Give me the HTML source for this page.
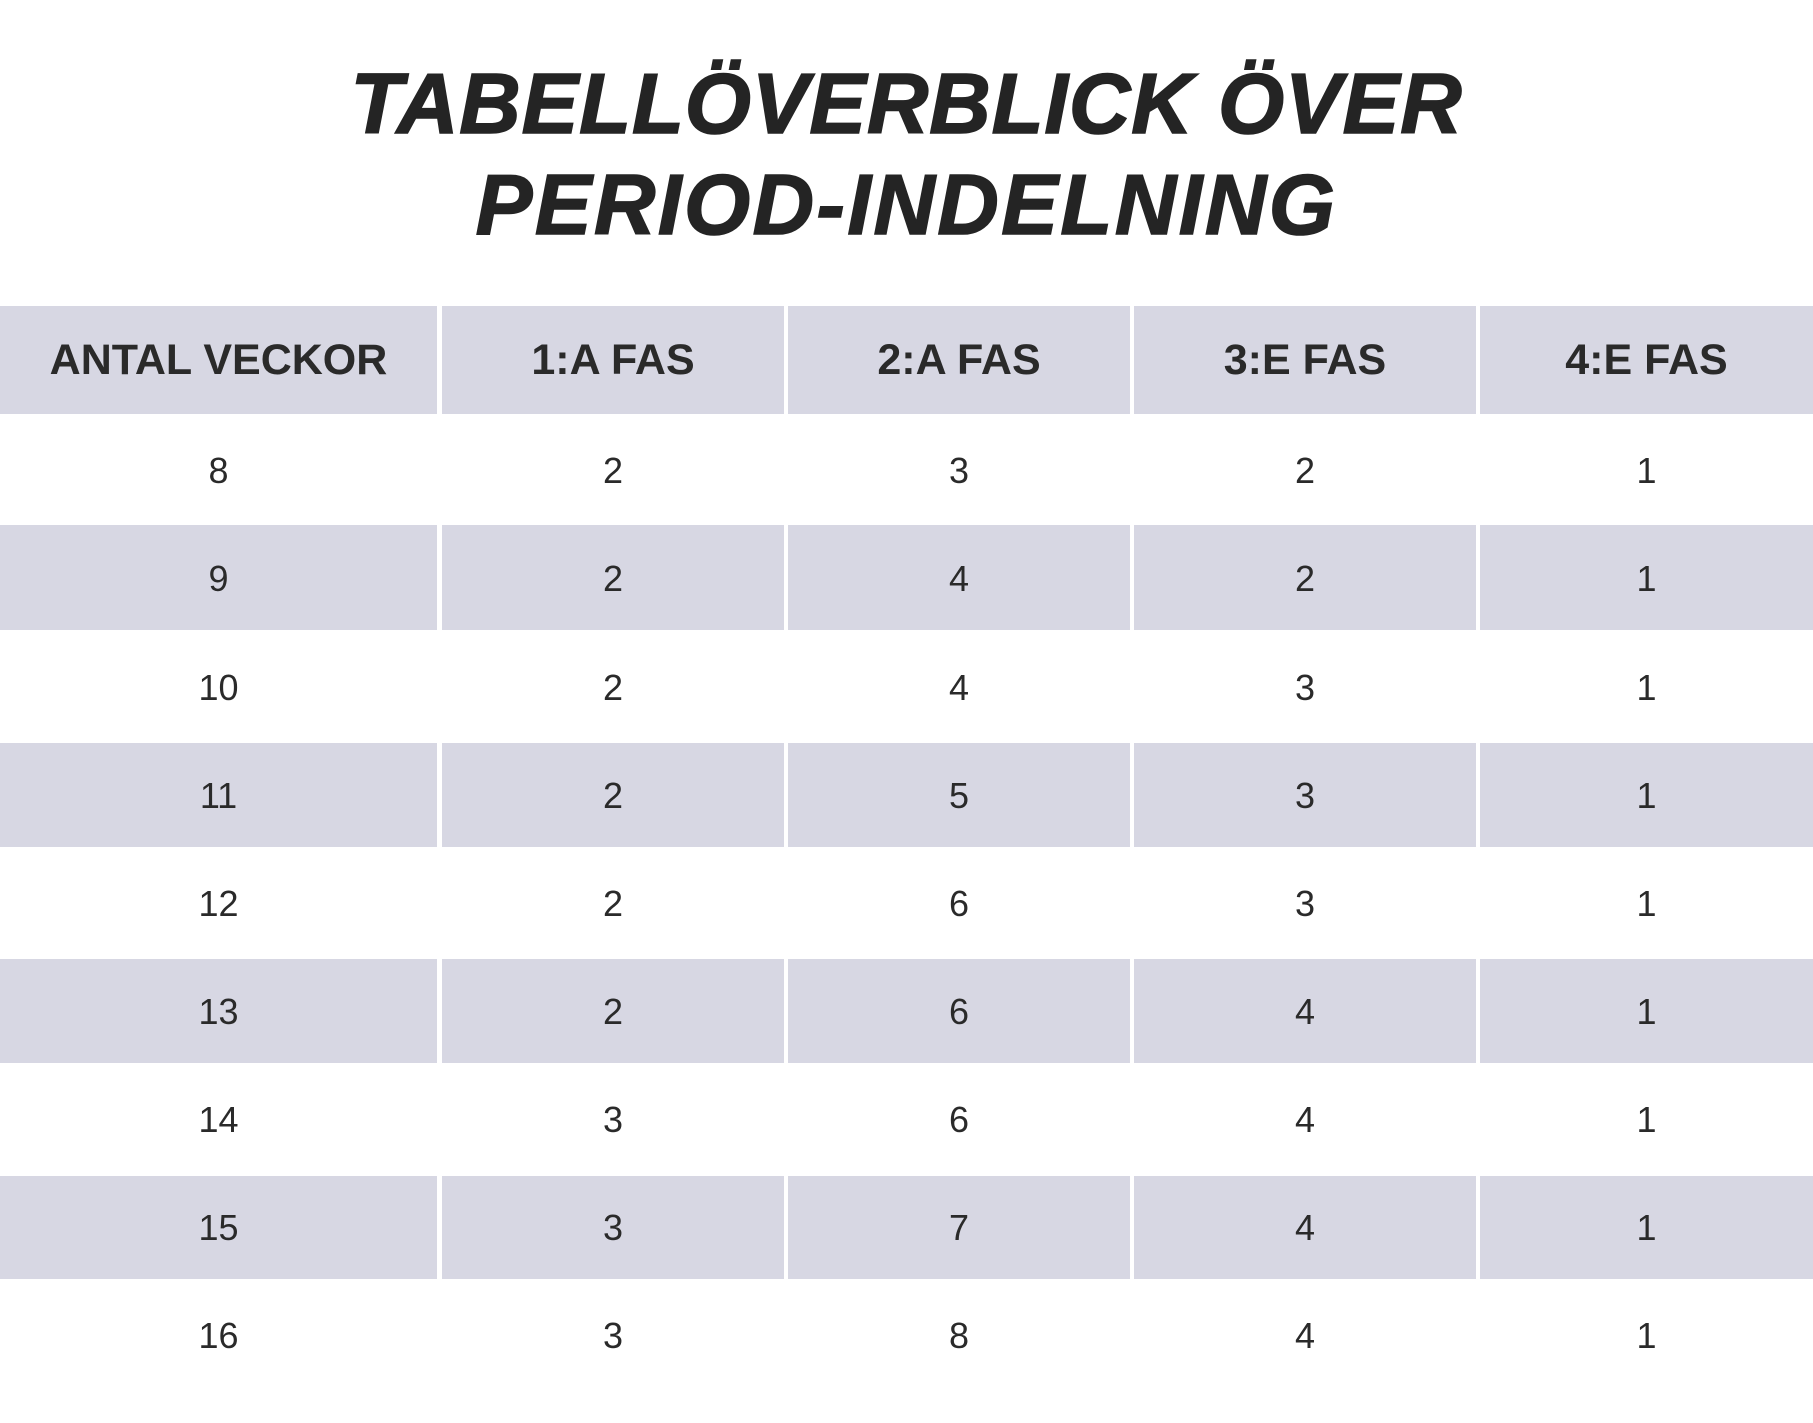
<!DOCTYPE html>
<html>
<head>
<meta charset="utf-8">
<style>
  html, body { margin:0; padding:0; }
  body { width:1813px; height:1423px; background:#ffffff; position:relative; overflow:hidden;
         font-family:"Liberation Sans", sans-serif; }
  .t { position:absolute; left:0; width:1813px; text-align:center; font-weight:bold; font-style:italic;
       font-size:85px; line-height:100px; color:#242424; white-space:nowrap;
       -webkit-text-stroke:1.6px #242424; }
  .g { position:absolute; background:#d7d7e3; }
  .c { position:absolute; text-align:center; white-space:nowrap; }
  .h { font-weight:bold; font-size:43px; color:#2a2a2a; height:60px; line-height:60px; }
  .d { font-size:36px; color:#2a2a2a; height:60px; line-height:60px; }
</style>
</head>
<body>
<div class="t" style="top:55px; letter-spacing:0.9px;">TABELLÖVERBLICK ÖVER</div>
<div class="t" style="top:156px; letter-spacing:2.5px;">PERIOD-INDELNING</div>

<!-- header band -->
<div class="g" style="left:0;top:306px;width:437px;height:108px"></div>
<div class="g" style="left:442px;top:306px;width:342px;height:108px"></div>
<div class="g" style="left:788px;top:306px;width:342px;height:108px"></div>
<div class="g" style="left:1134px;top:306px;width:342px;height:108px"></div>
<div class="g" style="left:1480px;top:306px;width:333px;height:108px"></div>

<!-- gray rows -->
<div class="g" style="left:0;top:525px;width:437px;height:105px"></div>
<div class="g" style="left:442px;top:525px;width:342px;height:105px"></div>
<div class="g" style="left:788px;top:525px;width:342px;height:105px"></div>
<div class="g" style="left:1134px;top:525px;width:342px;height:105px"></div>
<div class="g" style="left:1480px;top:525px;width:333px;height:105px"></div>

<div class="g" style="left:0;top:743px;width:437px;height:104px"></div>
<div class="g" style="left:442px;top:743px;width:342px;height:104px"></div>
<div class="g" style="left:788px;top:743px;width:342px;height:104px"></div>
<div class="g" style="left:1134px;top:743px;width:342px;height:104px"></div>
<div class="g" style="left:1480px;top:743px;width:333px;height:104px"></div>

<div class="g" style="left:0;top:959px;width:437px;height:104px"></div>
<div class="g" style="left:442px;top:959px;width:342px;height:104px"></div>
<div class="g" style="left:788px;top:959px;width:342px;height:104px"></div>
<div class="g" style="left:1134px;top:959px;width:342px;height:104px"></div>
<div class="g" style="left:1480px;top:959px;width:333px;height:104px"></div>

<div class="g" style="left:0;top:1176px;width:437px;height:103px"></div>
<div class="g" style="left:442px;top:1176px;width:342px;height:103px"></div>
<div class="g" style="left:788px;top:1176px;width:342px;height:103px"></div>
<div class="g" style="left:1134px;top:1176px;width:342px;height:103px"></div>
<div class="g" style="left:1480px;top:1176px;width:333px;height:103px"></div>

<!-- header text -->
<div class="c h" style="left:0;width:437px;top:330px">ANTAL VECKOR</div>
<div class="c h" style="left:442px;width:342px;top:330px">1:A FAS</div>
<div class="c h" style="left:788px;width:342px;top:330px">2:A FAS</div>
<div class="c h" style="left:1134px;width:342px;top:330px">3:E FAS</div>
<div class="c h" style="left:1480px;width:333px;top:330px">4:E FAS</div>

<!-- row 8 -->
<div class="c d" style="left:0;width:437px;top:441px">8</div>
<div class="c d" style="left:442px;width:342px;top:441px">2</div>
<div class="c d" style="left:788px;width:342px;top:441px">3</div>
<div class="c d" style="left:1134px;width:342px;top:441px">2</div>
<div class="c d" style="left:1480px;width:333px;top:441px">1</div>
<!-- row 9 -->
<div class="c d" style="left:0;width:437px;top:549px">9</div>
<div class="c d" style="left:442px;width:342px;top:549px">2</div>
<div class="c d" style="left:788px;width:342px;top:549px">4</div>
<div class="c d" style="left:1134px;width:342px;top:549px">2</div>
<div class="c d" style="left:1480px;width:333px;top:549px">1</div>
<!-- row 10 -->
<div class="c d" style="left:0;width:437px;top:658px">10</div>
<div class="c d" style="left:442px;width:342px;top:658px">2</div>
<div class="c d" style="left:788px;width:342px;top:658px">4</div>
<div class="c d" style="left:1134px;width:342px;top:658px">3</div>
<div class="c d" style="left:1480px;width:333px;top:658px">1</div>
<!-- row 11 -->
<div class="c d" style="left:0;width:437px;top:766px">11</div>
<div class="c d" style="left:442px;width:342px;top:766px">2</div>
<div class="c d" style="left:788px;width:342px;top:766px">5</div>
<div class="c d" style="left:1134px;width:342px;top:766px">3</div>
<div class="c d" style="left:1480px;width:333px;top:766px">1</div>
<!-- row 12 -->
<div class="c d" style="left:0;width:437px;top:874px">12</div>
<div class="c d" style="left:442px;width:342px;top:874px">2</div>
<div class="c d" style="left:788px;width:342px;top:874px">6</div>
<div class="c d" style="left:1134px;width:342px;top:874px">3</div>
<div class="c d" style="left:1480px;width:333px;top:874px">1</div>
<!-- row 13 -->
<div class="c d" style="left:0;width:437px;top:982px">13</div>
<div class="c d" style="left:442px;width:342px;top:982px">2</div>
<div class="c d" style="left:788px;width:342px;top:982px">6</div>
<div class="c d" style="left:1134px;width:342px;top:982px">4</div>
<div class="c d" style="left:1480px;width:333px;top:982px">1</div>
<!-- row 14 -->
<div class="c d" style="left:0;width:437px;top:1090px">14</div>
<div class="c d" style="left:442px;width:342px;top:1090px">3</div>
<div class="c d" style="left:788px;width:342px;top:1090px">6</div>
<div class="c d" style="left:1134px;width:342px;top:1090px">4</div>
<div class="c d" style="left:1480px;width:333px;top:1090px">1</div>
<!-- row 15 -->
<div class="c d" style="left:0;width:437px;top:1198px">15</div>
<div class="c d" style="left:442px;width:342px;top:1198px">3</div>
<div class="c d" style="left:788px;width:342px;top:1198px">7</div>
<div class="c d" style="left:1134px;width:342px;top:1198px">4</div>
<div class="c d" style="left:1480px;width:333px;top:1198px">1</div>
<!-- row 16 -->
<div class="c d" style="left:0;width:437px;top:1306px">16</div>
<div class="c d" style="left:442px;width:342px;top:1306px">3</div>
<div class="c d" style="left:788px;width:342px;top:1306px">8</div>
<div class="c d" style="left:1134px;width:342px;top:1306px">4</div>
<div class="c d" style="left:1480px;width:333px;top:1306px">1</div>
</body>
</html>
